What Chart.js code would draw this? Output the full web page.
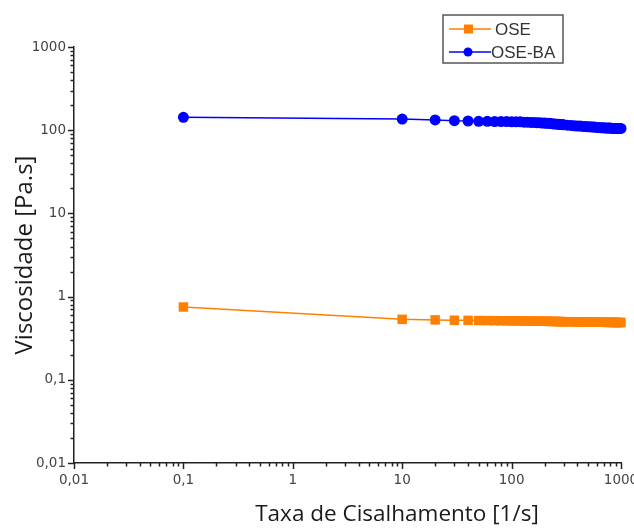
<!DOCTYPE html>
<html>
<head>
<meta charset="utf-8">
<script src="https://cdn.jsdelivr.net/npm/chart.js@4.4.0/dist/chart.umd.min.js"></script>
<style>
  html, body { margin: 0; padding: 0; background: #fff; }
</style>
</head>
<body>
<canvas id="chart" width="634" height="529"></canvas>
<script>
// shear rate [1/s] and viscosity [Pa.s]
const shearRate = [0.1,
  10, 20, 30, 40, 50, 60, 70, 80, 90, 100,
  110, 120, 130, 140, 150, 160, 170, 180, 190, 200,
  210, 220, 230, 240, 250, 260, 270, 280, 290, 300,
  325, 350, 375, 400, 425, 450, 475, 500, 525, 550,
  575, 600, 625, 650, 675, 700, 725, 750, 775, 800,
  825, 850, 875, 900, 925, 950, 975, 1000];
const viscOSE = [0.75,
  0.533, 0.525, 0.52, 0.518, 0.516, 0.515, 0.514, 0.513, 0.512, 0.511,
  0.511, 0.51, 0.509, 0.508, 0.508, 0.507, 0.507, 0.506, 0.506, 0.505,
  0.505, 0.504, 0.503, 0.503, 0.502, 0.502, 0.501, 0.501, 0.5, 0.5,
  0.499, 0.498, 0.498, 0.497, 0.497, 0.496, 0.496, 0.495, 0.495, 0.494,
  0.494, 0.493, 0.493, 0.492, 0.492, 0.491, 0.491, 0.49, 0.49, 0.49,
  0.489, 0.489, 0.489, 0.489, 0.488, 0.488, 0.488, 0.488];
const viscOSEBA = [143,
  136, 133, 130, 129, 128, 128, 127, 127, 127, 126,
  126, 126, 125, 125, 124, 124, 123, 123, 122, 122,
  121, 121, 120, 119, 119, 118, 118, 117, 117, 116,
  115, 114, 113, 112, 112, 111, 111, 110, 110, 109,
  109, 108, 108, 107, 107, 107, 106, 106, 106, 106,
  105, 105, 105, 105, 105, 105, 105, 105];

const seriesNames = ["OSE", "OSE-BA"];
const seriesColors = ["#FF8000", "#0000FF"];
const tickValues = [0.01, 0.1, 1, 10, 100, 1000];
const tickLabels = ["0,01", "0,1", "1", "10", "100", "1000"];
const xTitle = "Taxa de Cisalhamento [1/s]";
const yTitle = "Viscosidade [Pa.s]";

function decadeTicks(scale) {
  const ticks = [];
  for (let i = 0; i < tickValues.length - 1; i++) {
    for (let m = 1; m <= 9; m++) {
      ticks.push({ value: tickValues[i] * m, major: m === 1 });
    }
  }
  ticks.push({ value: tickValues[tickValues.length - 1], major: true });
  scale.ticks = ticks;
}

function tickLabel(value) {
  const i = tickValues.findIndex(v => Math.abs(v / value - 1) < 1e-6);
  return i >= 0 ? tickLabels[i] : "";
}

// axis tick marks, titles and the boxed legend
const decor = {
  id: "decor",
  afterDraw(chart) {
    const ctx = chart.ctx;
    const xs = chart.scales.x;
    const ys = chart.scales.y;
    const area = chart.chartArea;

    ctx.save();
    ctx.strokeStyle = "#222";
    ctx.lineWidth = 1.5;
    xs.ticks.forEach(t => {
      const px = Math.round(xs.getPixelForValue(t.value)) + 0.5;
      const len = t.major ? 6 : 3.5;
      ctx.beginPath();
      ctx.moveTo(px, area.bottom);
      ctx.lineTo(px, area.bottom + len);
      ctx.stroke();
    });
    ys.ticks.forEach(t => {
      const py = Math.round(ys.getPixelForValue(t.value)) + 0.5;
      const len = t.major ? 6 : 3.5;
      ctx.beginPath();
      ctx.moveTo(area.left, py);
      ctx.lineTo(area.left - len, py);
      ctx.stroke();
    });

    ctx.fillStyle = "#1a1a1a";
    ctx.textAlign = "center";
    ctx.textBaseline = "middle";
    ctx.font = "22.5px 'Open Sans'";
    ctx.fillText(xTitle, 397, 515);
    ctx.translate(25, (area.top + area.bottom) / 2);
    ctx.rotate(-Math.PI / 2);
    ctx.font = "24px 'Open Sans'";
    ctx.fillText(yTitle, 0, 0);
    ctx.restore();

    // legend
    ctx.save();
    const box = { x: 443, y: 15, w: 120, h: 48 };
    ctx.strokeStyle = "#555";
    ctx.lineWidth = 1.5;
    ctx.strokeRect(box.x, box.y, box.w, box.h);
    ctx.font = "17px 'Liberation Sans'";
    ctx.textAlign = "left";
    ctx.textBaseline = "middle";
    chart.data.datasets.forEach((ds, i) => {
      const y = box.y + 14 + i * 23;
      ctx.strokeStyle = ds.borderColor;
      ctx.lineWidth = 1.5;
      ctx.beginPath();
      ctx.moveTo(box.x + 6, y);
      ctx.lineTo(box.x + 48, y);
      ctx.stroke();
      ctx.fillStyle = ds.borderColor;
      if (ds.pointStyle === "rect") {
        ctx.fillRect(box.x + 21, y - 4.5, 9, 9);
      } else {
        ctx.beginPath();
        ctx.arc(box.x + 25, y, 4.5, 0, Math.PI * 2);
        ctx.fill();
      }
      ctx.fillStyle = "#333";
      ctx.fillText(ds.label, box.x + (i === 0 ? 52 : 48), y + 1);
    });
    ctx.restore();
  }
};

new Chart(document.getElementById("chart"), {
  type: "scatter",
  data: {
    datasets: [
      {
        label: seriesNames[0],
        data: shearRate.map((x, i) => ({ x: x, y: viscOSE[i] })),
        showLine: true,
        borderColor: seriesColors[0],
        backgroundColor: seriesColors[0],
        borderWidth: 1.5,
        pointStyle: "rect",
        pointRadius: 6.7,
        pointBorderWidth: 0,
        clip: 10
      },
      {
        label: seriesNames[1],
        data: shearRate.map((x, i) => ({ x: x, y: viscOSEBA[i] })),
        showLine: true,
        borderColor: seriesColors[1],
        backgroundColor: seriesColors[1],
        borderWidth: 1.5,
        pointStyle: "circle",
        pointRadius: 5.5,
        pointBorderWidth: 0,
        clip: 10
      }
    ]
  },
  options: {
    responsive: false,
    animation: false,
    layout: { padding: { top: 47, right: 13, left: 0, bottom: 0 } },
    plugins: {
      legend: { display: false },
      tooltip: { enabled: false }
    },
    scales: {
      x: {
        type: "logarithmic",
        min: 0.01,
        max: 1000,
        afterBuildTicks: decadeTicks,
        afterFit(scale) {
          scale.height = 66;
          scale.paddingLeft = 0;
          scale.paddingRight = 0;
        },
        grid: { display: false, drawTicks: false, tickLength: 0 },
        border: { display: true, color: "#222", width: 1.5 },
        ticks: {
          autoSkip: false,
          maxRotation: 0,
          padding: 9,
          color: "#444",
          font: { family: "'DejaVu Sans'", size: 13.5 },
          callback: tickLabel
        }
      },
      y: {
        type: "logarithmic",
        min: 0.01,
        max: 1000,
        afterBuildTicks: decadeTicks,
        afterFit(scale) {
          scale.width = 74;
          scale.paddingTop = 0;
          scale.paddingBottom = 0;
        },
        grid: { display: false, drawTicks: false, tickLength: 0 },
        border: { display: true, color: "#222", width: 1.5 },
        ticks: {
          autoSkip: false,
          padding: 8,
          color: "#444",
          font: { family: "'DejaVu Sans'", size: 13.5 },
          callback: tickLabel
        }
      }
    }
  },
  plugins: [decor]
});
</script>
</body>
</html>
